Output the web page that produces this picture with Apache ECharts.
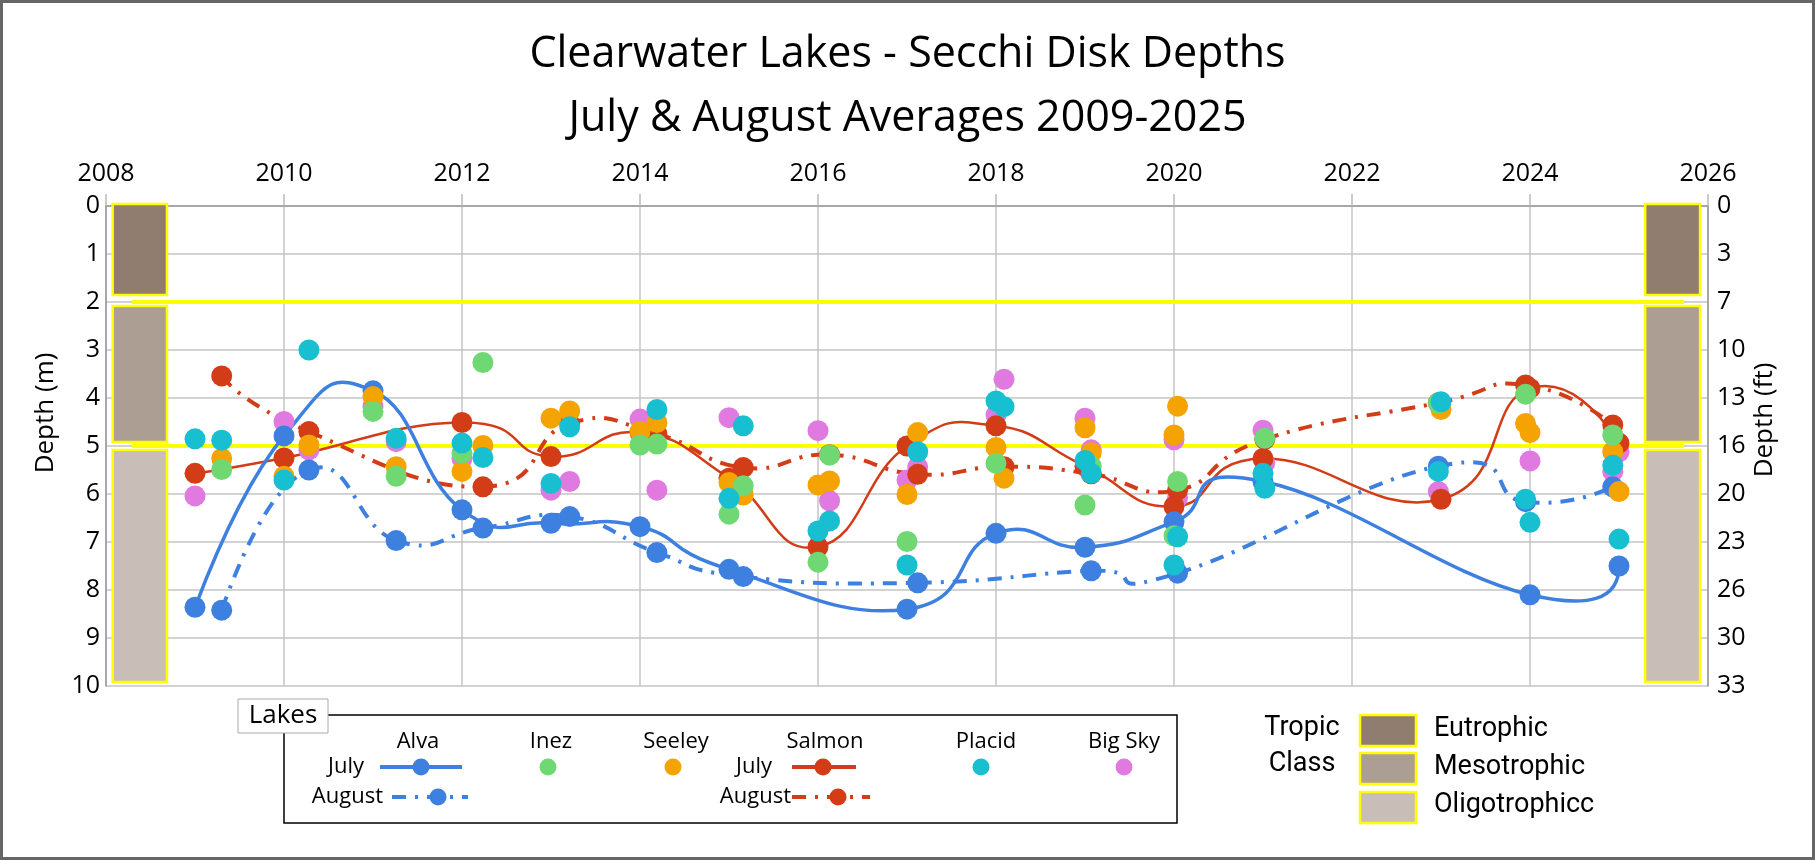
<!DOCTYPE html>
<html>
<head>
<meta charset="utf-8">
<script src="https://cdn.jsdelivr.net/npm/echarts@6/dist/echarts.min.js"></script>
<style>
html,body{margin:0;padding:0;background:#fff;}
#chart{width:1815px;height:860px;}
</style>
</head>
<body>
<div id="chart"></div>
<script>
// ---------- DATA ----------
const years   = [2009, 2010, 2011, 2012, 2013, 2014, 2015, 2016, 2017, 2018, 2019, 2020, 2021, 2023, 2024, 2025];
const julyX   = years.slice();
const augustX = [2009.30, 2010.28, 2011.26, 2012.235, 2013.21, 2014.19, 2015.16, 2016.13, 2017.12, 2018.09, 2019.07, 2020.04, 2021.02, 2022.97, 2023.95, 2024.93];

const alvaJuly     = [8.36, 4.79, 3.85, 6.33, 6.61, 6.68, 7.57, null, 8.40, 6.82, 7.11, 6.58, 5.74, null, 8.10, 7.50];
const alvaAugust   = [8.42, 5.50, 6.97, 6.71, 6.47, 7.22, 7.72, null, 7.85, null, 7.60, 7.65, null, 5.42, 6.16, 5.85];
const salmonJuly   = [5.57, 5.25, null, 4.51, 5.22, 4.72, 5.67, 7.10, 5.00, 4.58, 5.42, 6.26, 5.26, 6.11, 3.80, 4.94];
const salmonAugust = [3.54, 4.70, null, 5.85, 4.53, 4.75, 5.45, 5.18, 5.59, 5.43, 5.58, 5.92, 4.86, 4.10, 3.73, 4.56];
const inezJuly     = [null, null, 4.28, 5.15, null, 4.98, 6.42, 7.42, 6.99, 5.36, 6.23, 6.87, null, null, null, null];
const inezAugust   = [5.49, null, 5.63, 3.26, null, 4.96, 5.83, 5.19, null, null, 5.42, 5.74, 4.84, 4.10, 3.92, 4.77];
const seeleyJuly   = [null, 5.63, 3.97, 5.53, 4.42, 4.70, 5.76, 5.81, 6.01, 5.03, 4.62, 4.77, null, 4.24, 4.72, 5.95];
const seeleyAugust = [5.26, 4.98, 5.43, 4.99, 4.27, 4.51, 6.02, 5.73, 4.72, 5.67, 5.14, 4.17, null, null, 4.53, 5.12];
const placidJuly   = [4.85, 5.71, null, 4.94, 5.78, null, 6.09, 6.77, 7.48, 4.06, 5.30, 7.48, 5.57, 4.08, 6.59, 6.94];
const placidAugust = [4.88, 3.00, 4.84, 5.24, 4.60, 4.24, 4.58, 6.56, 5.12, 4.18, 5.57, 6.89, 5.88, 5.53, 6.11, 5.40];
const bigSkyJuly   = [6.04, 4.49, 4.18, 5.26, 5.92, 4.44, 4.41, 4.68, 5.71, 4.35, 4.42, 4.87, 4.67, null, 5.31, 5.12];
const bigSkyAugust = [null, 5.08, 4.91, null, 5.74, 5.92, null, 6.14, 5.44, 3.61, 5.08, 6.08, 5.35, 5.95, null, 5.53];

const classNames  = ['Eutrophic', 'Mesotrophic', 'Oligotrophicc'];
const classTop    = [0, 2, 5];
const classBottom = [2, 5, 10];
const classBounds = [2, 5];

const xTicks = [2008, 2010, 2012, 2014, 2016, 2018, 2020, 2022, 2024, 2026];
const lakeNames = ['Alva', 'Inez', 'Seeley', 'Salmon', 'Placid', 'Big Sky'];

// ---------- STYLE ----------
const C = {
  alva: '#3d80e0', salmon: '#d23c16', inez: '#6fd873', seeley: '#f5a300',
  placid: '#17bfd0', bigsky: '#e079e0'
};
const classColors = ['#917d6f', '#ac9e92', '#c8bdb7'];
const FONT = '"Open Sans", "Noto Sans", sans-serif';
const DASHDOT = [14, 9, 3, 9];
const TENSION = 0.25;

function pts(xs, ys) {
  const out = [];
  ys.forEach((v, i) => { if (v !== null && v !== undefined) out.push([xs[i], v]); });
  return out;
}

const chart = echarts.init(document.getElementById('chart'));

// smoothed connecting curve (spreadsheet-style spline), drawn segment by segment
function curveSeries(name, xs, ys, color, width, dashed) {
  const data = pts(xs, ys);
  return {
    name: name + ' curve', type: 'custom', coordinateSystem: 'cartesian2d', z: 2, silent: true,
    data: data, encode: { x: 0, y: 1 }, clip: false,
    renderItem: function (params, api) {
      const i = params.dataIndex, n = data.length;
      if (i >= n - 1) return null;
      const P = k => api.coord(data[k]);
      const p0 = P(i), p1 = P(i + 1);
      const hasPrev = i > 0, hasNext = i + 2 < n;
      const shape = { x1: p0[0], y1: p0[1], x2: p1[0], y2: p1[1] };
      if (hasPrev && hasNext) {
        const a = P(i - 1), b = P(i + 2);
        shape.cpx1 = p0[0] + (p1[0] - a[0]) * TENSION; shape.cpy1 = p0[1] + (p1[1] - a[1]) * TENSION;
        shape.cpx2 = p1[0] - (b[0] - p0[0]) * TENSION; shape.cpy2 = p1[1] - (b[1] - p0[1]) * TENSION;
      } else if (hasNext) {
        const b = P(i + 2);
        shape.cpx1 = p1[0] - (b[0] - p0[0]) * TENSION; shape.cpy1 = p1[1] - (b[1] - p0[1]) * TENSION;
      } else if (hasPrev) {
        const a = P(i - 1);
        shape.cpx1 = p0[0] + (p1[0] - a[0]) * TENSION; shape.cpy1 = p0[1] + (p1[1] - a[1]) * TENSION;
      } else {
        shape.cpx1 = (p0[0] + p1[0]) / 2; shape.cpy1 = (p0[1] + p1[1]) / 2;
      }
      return { type: 'bezierCurve', shape: shape,
        style: { stroke: color, fill: null, lineWidth: width, lineDash: dashed ? DASHDOT : null } };
    }
  };
}
function markerSeries(name, xs, ys, color) {
  return {
    name, type: 'scatter', data: pts(xs, ys), z: 2,
    symbol: 'circle', symbolSize: 21, itemStyle: { color: color, opacity: 1 },
    emphasis: { disabled: true }, silent: true
  };
}
function scatterSeries(name, jul, aug, color, z) {
  return {
    name, type: 'scatter', data: pts(julyX, jul).concat(pts(augustX, aug)), z: z,
    symbol: 'circle', symbolSize: 21, itemStyle: { color: color, opacity: 1 },
    emphasis: { disabled: true }, silent: true
  };
}

// Legend graphics
const g = [];
g.push({ type: 'rect', shape: { x: 1.5, y: 1.5, width: 1812, height: 857 }, style: { fill: 'none', stroke: '#666', lineWidth: 3 }, z: 100 });
g.push({ type: 'text', x: 46, y: 413, rotation: Math.PI / 2, style: { text: 'Depth (m)', font: '26px ' + FONT, fill: '#000', align: 'center', verticalAlign: 'middle' } });
g.push({ type: 'text', x: 1765, y: 420, rotation: Math.PI / 2, style: { text: 'Depth (ft)', font: '26px ' + FONT, fill: '#000', align: 'center', verticalAlign: 'middle' } });
g.push({ type: 'rect', shape: { x: 284, y: 715, width: 893, height: 108 }, style: { fill: '#fff', stroke: '#000', lineWidth: 1.5 } });
g.push({ type: 'rect', shape: { x: 238, y: 699, width: 90, height: 34 }, style: { fill: '#fff', stroke: '#aaa', lineWidth: 1 } });
g.push({ type: 'text', x: 283, y: 716, style: { text: 'Lakes', font: '26px ' + FONT, fill: '#000', align: 'center', verticalAlign: 'middle' } });
const headerX = [418, 551, 676, 825, 986, 1124];
lakeNames.forEach((n, i) => g.push({ type: 'text', x: headerX[i], y: 742, style: { text: n, font: '22px ' + FONT, fill: '#000', align: 'center', verticalAlign: 'middle' } }));
const rowLbl = (t, x, y) => g.push({ type: 'text', x: x, y: y, style: { text: t, font: '22px ' + FONT, fill: '#000', align: 'right', verticalAlign: 'middle' } });
rowLbl('July', 364, 767); rowLbl('August', 383, 797); rowLbl('July', 772, 767); rowLbl('August', 791, 797);
const sym = (x1, x2, xm, y, color, dashed, w) => {
  g.push({ type: 'line', shape: { x1: x1, y1: y, x2: x2, y2: y }, style: { stroke: color, lineWidth: w, lineDash: dashed ? DASHDOT : null } });
  g.push({ type: 'circle', shape: { cx: xm, cy: y, r: 8.5 }, style: { fill: color } });
};
sym(380, 462, 421, 767, C.alva, false, 4);
sym(392, 468, 438, 797, C.alva, true, 4);
sym(792, 856, 823, 767, C.salmon, false, 4);
sym(792, 870, 838, 797, C.salmon, true, 4);
[[548, C.inez], [673, C.seeley], [981, C.placid], [1124, C.bigsky]].forEach(p =>
  g.push({ type: 'circle', shape: { cx: p[0], cy: 767, r: 8.5 }, style: { fill: p[1] } }));
g.push({ type: 'text', x: 1302, y: 728, style: { text: 'Tropic', font: '27px Roboto', fill: '#000', align: 'center', verticalAlign: 'middle' } });
g.push({ type: 'text', x: 1302, y: 764, style: { text: 'Class', font: '27px Roboto', fill: '#000', align: 'center', verticalAlign: 'middle' } });
const boxY = [715, 753, 792];
const lblY = [729, 767, 805];
classNames.forEach((n, i) => {
  g.push({ type: 'rect', shape: { x: 1360, y: boxY[i], width: 56, height: 31 }, style: { fill: classColors[i], stroke: '#ffff00', lineWidth: 2.5 } });
  g.push({ type: 'text', x: 1434, y: lblY[i], style: { text: n, font: '27px Roboto', fill: '#000', align: 'left', verticalAlign: 'middle' } });
});

const option = {
  animation: false,
  backgroundColor: '#fff',
  title: {
    text: 'Clearwater Lakes - Secchi Disk Depths\nJuly & August Averages 2009-2025',
    left: 'center', top: 18,
    textStyle: { fontFamily: FONT, fontSize: 43, fontWeight: 'normal', color: '#000', lineHeight: 64 }
  },
  grid: { left: 106, right: 107, top: 206, bottom: 174, containLabel: false },
  xAxis: {
    type: 'value', position: 'top', min: xTicks[0], max: xTicks[xTicks.length - 1], interval: 2,
    axisLine: { show: true, lineStyle: { color: '#999', width: 1.5 } },
    axisTick: { show: true, length: 12, lineStyle: { color: '#bbb', width: 1.5 } },
    splitLine: { show: true, lineStyle: { color: '#c4c4c4', width: 1.5 } },
    axisLabel: { fontFamily: FONT, fontSize: 25, color: '#000', margin: 20, formatter: v => String(v) }
  },
  yAxis: [{
    type: 'value', inverse: true, min: 0, max: 10, interval: 1,
    axisLine: { show: true, lineStyle: { color: '#999', width: 1.5 } },
    axisTick: { show: false },
    splitLine: { show: true, lineStyle: { color: '#c4c4c4', width: 1.5 } },
    axisLabel: { fontFamily: FONT, fontSize: 25, color: '#000', margin: 6 }
  }, {
    type: 'value', inverse: true, min: 0, max: 10, interval: 1, position: 'right',
    axisLine: { show: true, lineStyle: { color: '#999', width: 1.5 } },
    axisTick: { show: false },
    splitLine: { show: false },
    axisLabel: { fontFamily: FONT, fontSize: 25, color: '#000', margin: 9, formatter: v => String(Math.round(v * 3.28084)) }
  }],
  graphic: g,
  series: [
    {
      name: 'Tropic bands', type: 'custom', silent: true, z: 1,
      data: classTop.map((t, i) => [t, classBottom[i]]),
      encode: { y: [0, 1] },
      renderItem: function (params, api) {
        const i = params.dataIndex;
        const t = api.value(0), b = api.value(1);
        const yt = api.coord([2008, t])[1] + (i === 0 ? -2 : 4);
        const yb = api.coord([2008, b])[1] - (i === 0 ? 7 : 4);
        const mk = (x0, x1) => {
          const a = api.coord([x0, t])[0], c = api.coord([x1, t])[0];
          return { type: 'rect', shape: { x: a, y: yt, width: c - a, height: yb - yt },
            style: { fill: classColors[i], stroke: '#ffff00', lineWidth: 2.5 } };
        };
        return { type: 'group', children: [mk(2008.075, 2008.685), mk(2025.294, 2025.911)] };
      }
    },
    {
      name: 'Class bounds', type: 'custom', silent: true, z: 1,
      data: classBounds.map(v => [v]),
      encode: { y: 0 },
      renderItem: function (params, api) {
        const v = api.value(0);
        const p1 = api.coord([2008.29, v]), p2 = api.coord([2025.73, v]);
        return { type: 'line', shape: { x1: p1[0], y1: p1[1], x2: p2[0], y2: p2[1] },
          style: { stroke: '#ffff00', lineWidth: 4 } };
      }
    },
    scatterSeries('Big Sky', bigSkyJuly, bigSkyAugust, C.bigsky, 2),
    curveSeries('Salmon August', augustX, salmonAugust, C.salmon, 4, true),
    markerSeries('Salmon August', augustX, salmonAugust, C.salmon),
    curveSeries('Salmon July', julyX, salmonJuly, C.salmon, 2.5, false),
    markerSeries('Salmon July', julyX, salmonJuly, C.salmon),
    curveSeries('Alva August', augustX, alvaAugust, C.alva, 4, true),
    markerSeries('Alva August', augustX, alvaAugust, C.alva),
    curveSeries('Alva July', julyX, alvaJuly, C.alva, 3.5, false),
    markerSeries('Alva July', julyX, alvaJuly, C.alva),
    scatterSeries('Seeley', seeleyJuly, seeleyAugust, C.seeley, 3),
    scatterSeries('Inez', inezJuly, inezAugust, C.inez, 3),
    scatterSeries('Placid', placidJuly, placidAugust, C.placid, 3)
  ]
};
chart.setOption(option);
</script>
</body>
</html>
